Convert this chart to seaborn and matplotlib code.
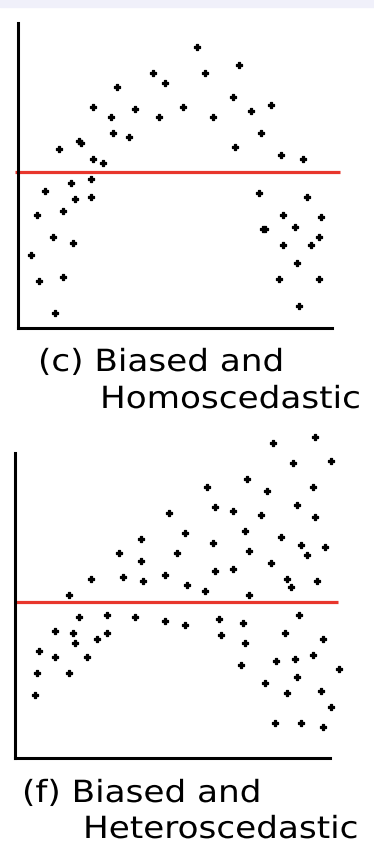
import matplotlib
matplotlib.use("Agg")
import matplotlib.pyplot as plt
import seaborn as sns
from matplotlib.patches import Rectangle
from matplotlib.patheffects import AbstractPathEffect
from matplotlib.transforms import Affine2D

# residuals, origin at the corner of the axes
c_x = [13, 21, 19, 27, 35, 37, 41, 45, 45, 53, 57, 55, 61, 63, 73, 73, 75, 75,
       85, 93, 95, 99, 111, 117, 135, 141, 147, 165, 179, 187, 195, 215, 217,
       221, 233, 243, 253, 241, 245, 247, 263, 265, 265, 261, 277, 279, 281,
       285, 289, 293, 301, 303, 301]
c_y = [73, 47, 113, 137, 91, 15, 179, 117, 51, 145, 129, 85, 187, 185, 149, 131,
       169, 221, 165, 211, 195, 241, 191, 219, 255, 211, 245, 221, 281, 255,
       211, 231, 181, 263, 217, 195, 223, 135, 99, 99, 173, 113, 83, 49, 101,
       65, 22, 169, 131, 83, 91, 111, 49]
c_level = 156

f_x = [20, 22, 24, 40, 40, 54, 54, 58, 60, 64, 72, 76, 82, 92, 92, 104, 108,
       120, 126, 126, 128, 150, 150, 154, 162, 170, 170, 172, 190, 192, 200,
       198, 200, 204, 206, 218, 218, 228, 230, 226, 230, 232, 234, 234, 246,
       250, 252, 256, 258, 260, 261, 266, 270, 272, 272, 276, 278, 280, 282,
       282, 284, 286, 286, 292, 298, 298, 300, 300, 302, 306, 308, 308, 310,
       316, 316, 324]
f_y = [63, 85, 107, 127, 101, 163, 85, 125, 115, 141, 101, 179, 119, 143, 125,
       205, 181, 141, 219, 197, 177, 183, 137, 245, 205, 225, 133, 173, 167,
       271, 251, 215, 187, 139, 123, 247, 189, 135, 115, 93, 227, 279, 207,
       163, 243, 75, 267, 195, 315, 35, 97, 221, 125, 179, 65, 171, 295, 99,
       253, 81, 143, 213, 35, 203, 271, 103, 241, 321, 177, 67, 119, 31, 211,
       297, 51, 89]
f_level = 156

c_caption = ["(c) Biased and", "Homoscedastic"]
f_caption = ["(f) Biased and", "Heteroscedastic"]

W, H = 374, 856


class StretchX(AbstractPathEffect):
    """Widen glyphs about the start of the text line."""

    def __init__(self, sx):
        super().__init__()
        self.sx = sx

    def draw_path(self, renderer, gc, tpath, affine, rgbFace=None):
        m = affine.get_matrix()
        tx, ty = m[0, 2], m[1, 2]
        widen = Affine2D().translate(-tx, -ty).scale(self.sx, 1).translate(tx, ty)
        renderer.draw_path(gc, tpath, affine + widen, rgbFace)


def residual_panel(ax, x, y, level, line_span, x_len, y_len):
    ax.hlines(level, line_span[0], line_span[1], color="#e8362c", lw=2.3, zorder=2)
    sns.scatterplot(x=x, y=y, ax=ax, color="black", marker="P", s=20,
                    linewidth=0.9, edgecolor="black", zorder=3)
    for side in ["top", "right"]:
        ax.spines[side].set_visible(False)
    ax.spines["left"].set_position(("data", 0))
    ax.spines["bottom"].set_position(("data", 0))
    ax.spines["left"].set_bounds(0, y_len)
    ax.spines["bottom"].set_bounds(0, x_len)
    for side in ["left", "bottom"]:
        ax.spines[side].set_linewidth(2.2)
        ax.spines[side].set_color("black")
        ax.spines[side].set_zorder(2.5)
    ax.set_xticks([])
    ax.set_yticks([])
    ax.set_facecolor("none")


sns.set_theme(style="white")
plt.rcParams["font.family"] = ["DejaVu Sans"]

fig = plt.figure(figsize=(W / 100, H / 100), dpi=100)
fig.patches.append(Rectangle((0, 1 - 7 / H), 1, 7 / H, transform=fig.transFigure,
                             color="#f0f0fa", zorder=0))

ax1 = fig.add_axes([0, (H - 340) / H, 1, 325 / H])
residual_panel(ax1, c_x, c_y, c_level, (-3, 322), 314, 305)
ax1.set_xlim(-18, 356)
ax1.set_ylim(-12, 313)

ax2 = fig.add_axes([0, (H - 770) / H, 1, 345 / H])
residual_panel(ax2, f_x, f_y, f_level, (-1, 323), 315, 305)
ax2.set_xlim(-15, 359)
ax2.set_ylim(-12, 333)

stretch = [StretchX(1.12)]
txt = dict(fontsize=22, color="black", ha="left", va="baseline", path_effects=stretch)
fig.text(38 / W, 1 - 371 / H, c_caption[0], **txt)
fig.text(100 / W, 1 - 408 / H, c_caption[1], **txt)
fig.text(22 / W, 1 - 802 / H, f_caption[0], **txt)
fig.text(83 / W, 1 - 838 / H, f_caption[1], **txt)

fig.savefig("out.png", dpi=100, facecolor="white")
plt.close(fig)
